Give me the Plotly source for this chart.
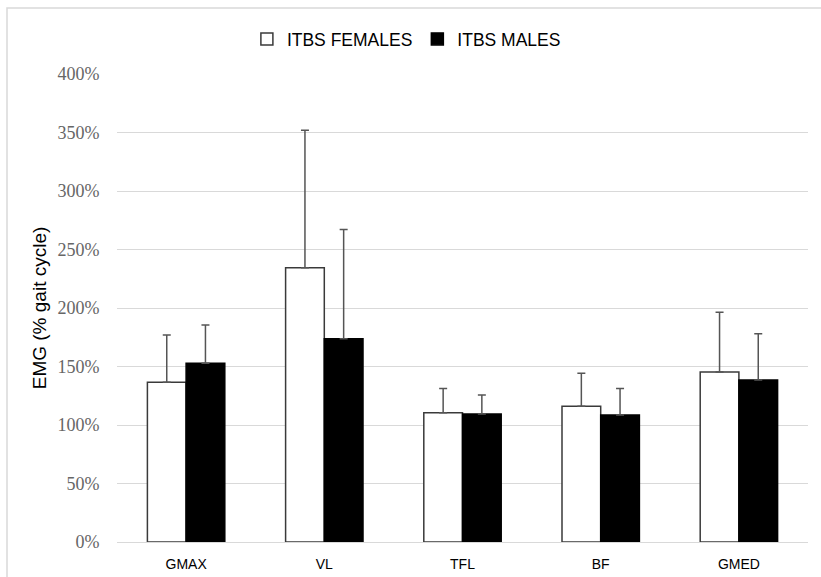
import plotly.graph_objects as go

categories = ["GMAX", "VL", "TFL", "BF", "GMED"]
females = [136.5, 234.5, 110.5, 116.0, 145.3]
females_sd = [40.5, 117.5, 20.8, 28.2, 51.0]
males = [152.7, 173.8, 109.4, 108.5, 138.5]
males_sd = [32.8, 93.2, 16.2, 22.8, 39.5]
y_ticks = [0, 50, 100, 150, 200, 250, 300, 350, 400]
y_tick_labels = ["0%", "50%", "100%", "150%", "200%", "250%", "300%", "350%", "400%"]

fig = go.Figure()
fig.add_trace(go.Bar(
    name="ITBS FEMALES", x=categories, y=females,
    marker=dict(color="white", line=dict(color="#3a3a3a", width=1.5)),
    error_y=dict(type="data", symmetric=False, array=females_sd,
                 arrayminus=[0] * len(females), color="#555555",
                 thickness=1.5, width=4),
))
fig.add_trace(go.Bar(
    name="ITBS MALES", x=categories, y=males,
    marker=dict(color="black", line=dict(color="black", width=1.5)),
    error_y=dict(type="data", symmetric=False, array=males_sd,
                 arrayminus=[0] * len(males), color="#555555",
                 thickness=1.5, width=4),
))

fig.update_layout(
    width=821, height=577,
    margin=dict(l=117, r=13, t=74, b=35, autoexpand=False),
    paper_bgcolor="white", plot_bgcolor="white",
    barmode="group", bargap=0.44, bargroupgap=0,
    showlegend=True,
    legend=dict(orientation="h", xref="container", yref="container",
                x=0.495, xanchor="center", y=1 - 39 / 577, yanchor="middle",
                font=dict(family="Liberation Sans", size=17.5, color="black"),
                itemwidth=30, traceorder="normal"),
    xaxis=dict(showgrid=False, showline=False, ticks="outside", ticklen=9,
               tickcolor="rgba(0,0,0,0)", automargin=False,
               tickfont=dict(family="Liberation Sans", size=14, color="black")),
    yaxis=dict(range=[0, 400], tickmode="array", tickvals=y_ticks, ticktext=y_tick_labels,
               showgrid=True, gridcolor="#d9d9d9", gridwidth=1,
               zeroline=True, zerolinecolor="#d9d9d9", zerolinewidth=1,
               showline=False, ticks="outside", ticklen=13, tickcolor="rgba(0,0,0,0)",
               automargin=False,
               tickfont=dict(family="Liberation Serif", size=18, color="#666666"),
               title=dict(text="EMG (% gait cycle)", standoff=5,
                          font=dict(family="Liberation Sans", size=19, color="black"))),
    shapes=[dict(type="path", xref="paper", yref="paper",
                 path="M -0.1592,-0.2 L -0.1592,1.141 L 1.02,1.141",
                 line=dict(color="#d9d9d9", width=1.5))],
)

fig.write_html("out.html", config={"displayModeBar": False},
               post_script="document.body.style.margin='0';document.body.style.overflow='hidden';")
